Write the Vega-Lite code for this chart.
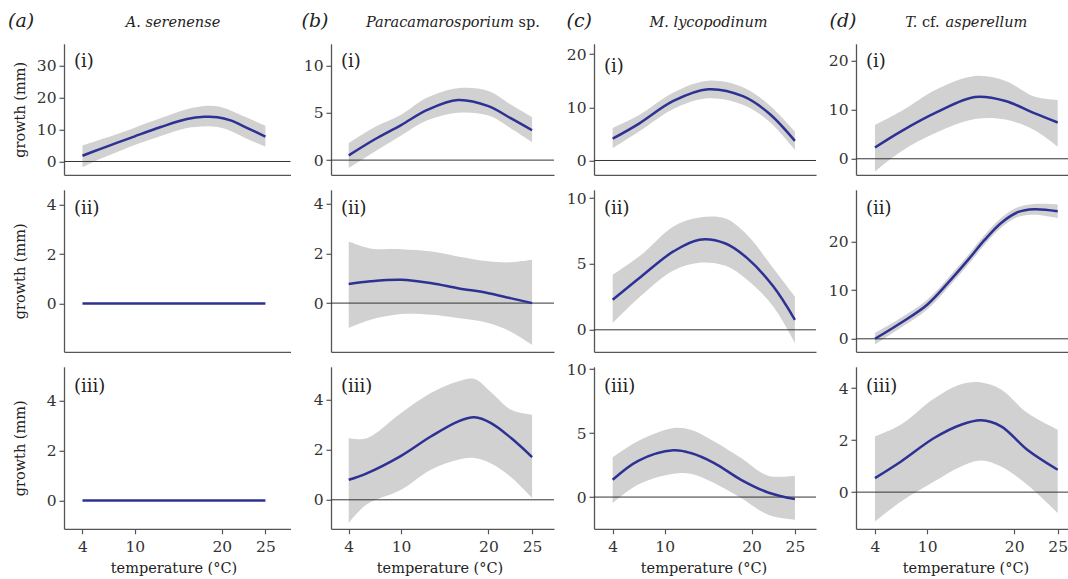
{
"$schema":"https://vega.github.io/schema/vega-lite/v6.json",
"background":"white",
"padding":{"left":7,"top":11.8,"right":0,"bottom":0},
"columns":4,
"bounds":"flush",
"align":"each",
"spacing":{"row":15,"column":40},
"config":{"view":{"stroke":null},"font":"DejaVu Serif",
"axis":{"grid":false,"labelFont":"DejaVu Serif","titleFont":"DejaVu Serif","labelFontSize":15.5,"titleFontSize":14.5,"titleFontWeight":"normal","labelColor":"#333","titleColor":"#222","domainColor":"#555","domainWidth":1.3,"tickColor":"#555","tickWidth":1.2,"tickSize":5,"labelPadding":3}},
"datasets":{"d":[
{"c":"a","r":"i","t":4,"fit":1.8,"lo":-1.8,"hi":5.0},
{"c":"a","r":"i","t":6,"fit":3.9,"lo":0.8,"hi":6.8},
{"c":"a","r":"i","t":8,"fit":5.9,"lo":3.0,"hi":8.6},
{"c":"a","r":"i","t":10,"fit":7.9,"lo":5.2,"hi":10.6},
{"c":"a","r":"i","t":13,"fit":10.8,"lo":8.0,"hi":13.6},
{"c":"a","r":"i","t":16,"fit":13.3,"lo":10.5,"hi":16.4},
{"c":"a","r":"i","t":18,"fit":14.0,"lo":11.0,"hi":17.4},
{"c":"a","r":"i","t":19.5,"fit":13.9,"lo":10.8,"hi":17.3},
{"c":"a","r":"i","t":21,"fit":12.9,"lo":9.6,"hi":16.0},
{"c":"a","r":"i","t":23,"fit":10.4,"lo":7.0,"hi":13.6},
{"c":"a","r":"i","t":25,"fit":7.8,"lo":4.6,"hi":11.2},
{"c":"b","r":"i","t":4,"fit":0.5,"lo":-0.85,"hi":1.8},
{"c":"b","r":"i","t":7,"fit":2.2,"lo":0.9,"hi":3.5},
{"c":"b","r":"i","t":10,"fit":3.7,"lo":2.6,"hi":4.8},
{"c":"b","r":"i","t":13,"fit":5.3,"lo":4.2,"hi":6.6},
{"c":"b","r":"i","t":16.5,"fit":6.35,"lo":5.0,"hi":7.6},
{"c":"b","r":"i","t":20,"fit":5.7,"lo":4.7,"hi":7.3},
{"c":"b","r":"i","t":22.5,"fit":4.45,"lo":3.4,"hi":5.9},
{"c":"b","r":"i","t":25,"fit":3.15,"lo":1.9,"hi":4.55},
{"c":"c","r":"i","t":4,"fit":4.1,"lo":2.3,"hi":6.1},
{"c":"c","r":"i","t":7,"fit":6.9,"lo":5.4,"hi":8.5},
{"c":"c","r":"i","t":11,"fit":11.2,"lo":9.7,"hi":12.8},
{"c":"c","r":"i","t":15,"fit":13.4,"lo":11.7,"hi":15.0},
{"c":"c","r":"i","t":19,"fit":12.1,"lo":10.5,"hi":13.8},
{"c":"c","r":"i","t":22,"fit":8.9,"lo":7.4,"hi":10.5},
{"c":"c","r":"i","t":25,"fit":3.7,"lo":2.0,"hi":5.45},
{"c":"d","r":"i","t":4,"fit":2.3,"lo":-2.6,"hi":6.9},
{"c":"d","r":"i","t":7,"fit":5.6,"lo":1.5,"hi":9.7},
{"c":"d","r":"i","t":11,"fit":9.4,"lo":5.3,"hi":14.1},
{"c":"d","r":"i","t":15.5,"fit":12.6,"lo":8.1,"hi":16.9},
{"c":"d","r":"i","t":19,"fit":11.8,"lo":8.0,"hi":15.9},
{"c":"d","r":"i","t":22.3,"fit":9.3,"lo":5.9,"hi":12.7},
{"c":"d","r":"i","t":25,"fit":7.4,"lo":2.5,"hi":12.0},
{"c":"a","r":"ii","t":4,"fit":0,"lo":0,"hi":0},
{"c":"a","r":"ii","t":25,"fit":0,"lo":0,"hi":0},
{"c":"b","r":"ii","t":4,"fit":0.77,"lo":-1.0,"hi":2.48},
{"c":"b","r":"ii","t":6.5,"fit":0.88,"lo":-0.67,"hi":2.2},
{"c":"b","r":"ii","t":10,"fit":0.94,"lo":-0.44,"hi":2.17},
{"c":"b","r":"ii","t":13.5,"fit":0.8,"lo":-0.47,"hi":2.08},
{"c":"b","r":"ii","t":16.5,"fit":0.6,"lo":-0.6,"hi":1.88},
{"c":"b","r":"ii","t":20,"fit":0.4,"lo":-0.8,"hi":1.68},
{"c":"b","r":"ii","t":22.5,"fit":0.2,"lo":-1.14,"hi":1.64},
{"c":"b","r":"ii","t":25,"fit":0.0,"lo":-1.68,"hi":1.74},
{"c":"c","r":"ii","t":4,"fit":2.28,"lo":0.5,"hi":4.18},
{"c":"c","r":"ii","t":7.3,"fit":4.05,"lo":2.6,"hi":5.7},
{"c":"c","r":"ii","t":11,"fit":5.95,"lo":4.5,"hi":7.85},
{"c":"c","r":"ii","t":14,"fit":6.84,"lo":5.1,"hi":8.53},
{"c":"c","r":"ii","t":17,"fit":6.55,"lo":4.86,"hi":8.45},
{"c":"c","r":"ii","t":19.5,"fit":5.44,"lo":3.8,"hi":7.2},
{"c":"c","r":"ii","t":22.5,"fit":3.3,"lo":1.77,"hi":4.68},
{"c":"c","r":"ii","t":25,"fit":0.76,"lo":-1.0,"hi":2.53},
{"c":"d","r":"ii","t":4,"fit":0.0,"lo":-1.2,"hi":1.2},
{"c":"d","r":"ii","t":7,"fit":3.3,"lo":2.3,"hi":4.3},
{"c":"d","r":"ii","t":10,"fit":7.0,"lo":6.0,"hi":8.0},
{"c":"d","r":"ii","t":12.7,"fit":12.1,"lo":11.1,"hi":13.1},
{"c":"d","r":"ii","t":14.7,"fit":16.2,"lo":15.2,"hi":17.2},
{"c":"d","r":"ii","t":16.6,"fit":20.3,"lo":19.3,"hi":21.3},
{"c":"d","r":"ii","t":18.5,"fit":23.8,"lo":22.8,"hi":24.8},
{"c":"d","r":"ii","t":20.4,"fit":26.0,"lo":25.0,"hi":27.0},
{"c":"d","r":"ii","t":22.3,"fit":26.6,"lo":25.5,"hi":27.7},
{"c":"d","r":"ii","t":25,"fit":26.2,"lo":24.8,"hi":27.6},
{"c":"a","r":"iii","t":4,"fit":0,"lo":0,"hi":0},
{"c":"a","r":"iii","t":25,"fit":0,"lo":0,"hi":0},
{"c":"b","r":"iii","t":4,"fit":0.8,"lo":-0.93,"hi":2.47},
{"c":"b","r":"iii","t":6,"fit":1.05,"lo":-0.2,"hi":2.45},
{"c":"b","r":"iii","t":10,"fit":1.76,"lo":0.4,"hi":3.47},
{"c":"b","r":"iii","t":13.4,"fit":2.53,"lo":1.2,"hi":4.27},
{"c":"b","r":"iii","t":16.5,"fit":3.13,"lo":1.6,"hi":4.73},
{"c":"b","r":"iii","t":18.4,"fit":3.3,"lo":1.67,"hi":4.83},
{"c":"b","r":"iii","t":20.3,"fit":3.07,"lo":1.45,"hi":4.3},
{"c":"b","r":"iii","t":22.6,"fit":2.47,"lo":0.9,"hi":3.6},
{"c":"b","r":"iii","t":25,"fit":1.71,"lo":0.07,"hi":3.4},
{"c":"c","r":"iii","t":4,"fit":1.35,"lo":-0.47,"hi":3.1},
{"c":"c","r":"iii","t":7,"fit":2.85,"lo":1.0,"hi":4.4},
{"c":"c","r":"iii","t":11,"fit":3.65,"lo":1.82,"hi":5.4},
{"c":"c","r":"iii","t":13,"fit":3.44,"lo":1.82,"hi":5.26},
{"c":"c","r":"iii","t":15.7,"fit":2.66,"lo":1.1,"hi":4.35},
{"c":"c","r":"iii","t":18.8,"fit":1.35,"lo":-0.08,"hi":3.05},
{"c":"c","r":"iii","t":21.9,"fit":0.36,"lo":-1.38,"hi":1.67},
{"c":"c","r":"iii","t":25,"fit":-0.16,"lo":-1.77,"hi":1.67},
{"c":"d","r":"iii","t":4,"fit":0.54,"lo":-1.13,"hi":2.14},
{"c":"d","r":"iii","t":7,"fit":1.18,"lo":-0.36,"hi":2.6},
{"c":"d","r":"iii","t":10.8,"fit":2.08,"lo":0.41,"hi":3.6},
{"c":"d","r":"iii","t":13.9,"fit":2.59,"lo":0.99,"hi":4.15},
{"c":"d","r":"iii","t":16.2,"fit":2.76,"lo":1.22,"hi":4.22},
{"c":"d","r":"iii","t":18.5,"fit":2.53,"lo":0.99,"hi":3.95},
{"c":"d","r":"iii","t":21.5,"fit":1.63,"lo":0.28,"hi":3.05},
{"c":"d","r":"iii","t":25,"fit":0.86,"lo":-0.81,"hi":2.4}
]},
"concat":[
{"width":226.5,"height":131,"data":{"name":"d"},"transform":[{"filter":"datum.c=='a' && datum.r=='i'"}],
 "resolve":{"axis":{"x":"independent","y":"independent"}},
 "layer":[
  {"mark":{"type":"area","color":"#d1d1d1","interpolate":"catmull-rom"},
   "encoding":{
    "x":{"field":"t","type":"quantitative","scale":{"domain":[1.88,27.88],"nice":false,"zero":false},"axis":{"orient":"bottom","ticks":false,"labels":false,"title":"(a)","titleX":-56.5,"titleY":-148,"titleAlign":"left","titleBaseline":"alphabetic","titleFontSize":19,"titleFontStyle":"italic"}},
    "y":{"field":"lo","type":"quantitative","scale":{"domain":[-4.17,36.9],"nice":false,"zero":false},"axis":{"orient":"left","values":[0,10,20,30],"title":"growth (mm)","titleX":-37,"titleY":65.5,"titleAngle":270,"titleAlign":"center","titleBaseline":"bottom"}},
    "y2":{"field":"hi"}}},
  {"data":{"values":[{}]},"mark":{"type":"rule","color":"#333","strokeWidth":1},"encoding":{"y":{"datum":0,"axis":null}}},
  {"mark":{"type":"line","color":"#2d3194","strokeWidth":2.5,"interpolate":"catmull-rom"},
   "encoding":{
    "x":{"field":"t","type":"quantitative","axis":{"orient":"top","domain":false,"ticks":false,"labels":false,"title":"A. serenense","titleX":108.5,"titleY":-17,"titleAlign":"center","titleBaseline":"alphabetic","titleFontStyle":"italic"}},
    "y":{"field":"fit","type":"quantitative","axis":{"orient":"right","domain":false,"ticks":false,"labels":false,"title":"(i)","titleX":-217,"titleY":23,"titleAngle":0,"titleAlign":"left","titleBaseline":"alphabetic","titleFontSize":18}}}}
 ]},
{"width":223,"height":131,"data":{"name":"d"},"transform":[{"filter":"datum.c=='b' && datum.r=='i'"}],
 "resolve":{"axis":{"x":"independent","y":"independent"}},
 "layer":[
  {"mark":{"type":"area","color":"#d1d1d1","interpolate":"catmull-rom"},
   "encoding":{
    "x":{"field":"t","type":"quantitative","scale":{"domain":[1.97,27.51],"nice":false,"zero":false},"axis":{"orient":"bottom","ticks":false,"labels":false,"title":"(b)","titleX":-30,"titleY":-148,"titleAlign":"left","titleBaseline":"alphabetic","titleFontSize":19,"titleFontStyle":"italic"}},
    "y":{"field":"lo","type":"quantitative","scale":{"domain":[-1.55,12.28],"nice":false,"zero":false},"axis":{"orient":"left","values":[0,5,10],"title":"sp.","titleX":187,"titleY":-17,"titleAngle":0,"titleAlign":"left","titleBaseline":"alphabetic"}},
    "y2":{"field":"hi"}}},
  {"data":{"values":[{}]},"mark":{"type":"rule","color":"#333","strokeWidth":1},"encoding":{"y":{"datum":0,"axis":null}}},
  {"mark":{"type":"line","color":"#2d3194","strokeWidth":2.5,"interpolate":"catmull-rom"},
   "encoding":{
    "x":{"field":"t","type":"quantitative","axis":{"orient":"top","domain":false,"ticks":false,"labels":false,"title":"Paracamarosporium","titleX":182.5,"titleY":-17,"titleAlign":"right","titleBaseline":"alphabetic","titleFontStyle":"italic"}},
    "y":{"field":"fit","type":"quantitative","axis":{"orient":"right","domain":false,"ticks":false,"labels":false,"title":"(i)","titleX":-213.5,"titleY":23,"titleAngle":0,"titleAlign":"left","titleBaseline":"alphabetic","titleFontSize":18}}}}
 ]},
{"width":222,"height":131,"data":{"name":"d"},"transform":[{"filter":"datum.c=='c' && datum.r=='i'"}],
 "resolve":{"axis":{"x":"independent","y":"independent"}},
 "layer":[
  {"mark":{"type":"area","color":"#d1d1d1","interpolate":"catmull-rom"},
   "encoding":{
    "x":{"field":"t","type":"quantitative","scale":{"domain":[1.85,27.43],"nice":false,"zero":false},"axis":{"orient":"bottom","ticks":false,"labels":false,"title":"(c)","titleX":-28,"titleY":-148,"titleAlign":"left","titleBaseline":"alphabetic","titleFontSize":19,"titleFontStyle":"italic"}},
    "y":{"field":"lo","type":"quantitative","scale":{"domain":[-2.69,21.95],"nice":false,"zero":false},"axis":{"orient":"left","values":[0,10,20],"title":null}},
    "y2":{"field":"hi"}}},
  {"data":{"values":[{}]},"mark":{"type":"rule","color":"#333","strokeWidth":1},"encoding":{"y":{"datum":0,"axis":null}}},
  {"mark":{"type":"line","color":"#2d3194","strokeWidth":2.5,"interpolate":"catmull-rom"},
   "encoding":{
    "x":{"field":"t","type":"quantitative","axis":{"orient":"top","domain":false,"ticks":false,"labels":false,"title":"M. lycopodinum","titleX":114,"titleY":-17,"titleAlign":"center","titleBaseline":"alphabetic","titleFontStyle":"italic"}},
    "y":{"field":"fit","type":"quantitative","axis":{"orient":"right","domain":false,"ticks":false,"labels":false,"title":"(i)","titleX":-212.5,"titleY":28,"titleAngle":0,"titleAlign":"left","titleBaseline":"alphabetic","titleFontSize":18}}}}
 ]},
{"width":213,"height":131,"data":{"name":"d"},"transform":[{"filter":"datum.c=='d' && datum.r=='i'"}],
 "resolve":{"axis":{"x":"independent","y":"independent"}},
 "layer":[
  {"mark":{"type":"area","color":"#d1d1d1","interpolate":"catmull-rom"},
   "encoding":{
    "x":{"field":"t","type":"quantitative","scale":{"domain":[1.82,26.3],"nice":false,"zero":false},"axis":{"orient":"bottom","ticks":false,"labels":false,"title":"(d)","titleX":-27,"titleY":-148,"titleAlign":"left","titleBaseline":"alphabetic","titleFontSize":19,"titleFontStyle":"italic"}},
    "y":{"field":"lo","type":"quantitative","scale":{"domain":[-3.27,23.47],"nice":false,"zero":false},"axis":{"orient":"left","values":[0,10,20],"title":"cf.","titleX":65.5,"titleY":-17,"titleAngle":0,"titleAlign":"left","titleBaseline":"alphabetic"}},
    "y2":{"field":"hi"}}},
  {"data":{"values":[{}]},"mark":{"type":"rule","color":"#333","strokeWidth":1},"encoding":{"y":{"datum":0,"axis":{"orient":"left","domain":false,"ticks":false,"labels":false,"title":"T.","titleX":60.9,"titleY":-17,"titleAngle":0,"titleAlign":"right","titleBaseline":"alphabetic","titleFontStyle":"italic"}}}},
  {"mark":{"type":"line","color":"#2d3194","strokeWidth":2.5,"interpolate":"catmull-rom"},
   "encoding":{
    "x":{"field":"t","type":"quantitative","axis":{"orient":"top","domain":false,"ticks":false,"labels":false,"title":"asperellum","titleX":89,"titleY":-17,"titleAlign":"left","titleBaseline":"alphabetic","titleFontStyle":"italic"}},
    "y":{"field":"fit","type":"quantitative","axis":{"orient":"right","domain":false,"ticks":false,"labels":false,"title":"(i)","titleX":-203.5,"titleY":23,"titleAngle":0,"titleAlign":"left","titleBaseline":"alphabetic","titleFontSize":18}}}}
 ]},
{"width":226.5,"height":162,"data":{"name":"d"},"transform":[{"filter":"datum.c=='a' && datum.r=='ii'"}],
 "resolve":{"axis":{"x":"independent","y":"independent"}},
 "layer":[
  {"mark":{"type":"area","color":"#d1d1d1","interpolate":"catmull-rom"},
   "encoding":{
    "x":{"field":"t","type":"quantitative","scale":{"domain":[1.88,27.88],"nice":false,"zero":false},"axis":{"orient":"bottom","ticks":false,"labels":false,"title":null}},
    "y":{"field":"lo","type":"quantitative","scale":{"domain":[-1.96,4.6],"nice":false,"zero":false},"axis":{"orient":"left","values":[0,2,4],"title":"growth (mm)","titleX":-37,"titleY":81,"titleAngle":270,"titleAlign":"center","titleBaseline":"bottom"}},
    "y2":{"field":"hi"}}},
  {"mark":{"type":"line","color":"#2d3194","strokeWidth":2.5,"interpolate":"catmull-rom"},
   "encoding":{
    "x":{"field":"t","type":"quantitative","axis":null},
    "y":{"field":"fit","type":"quantitative","axis":{"orient":"right","domain":false,"ticks":false,"labels":false,"title":"(ii)","titleX":-217,"titleY":23.5,"titleAngle":0,"titleAlign":"left","titleBaseline":"alphabetic","titleFontSize":18}}}}
 ]},
{"width":223,"height":162,"data":{"name":"d"},"transform":[{"filter":"datum.c=='b' && datum.r=='ii'"}],
 "resolve":{"axis":{"x":"independent","y":"independent"}},
 "layer":[
  {"mark":{"type":"area","color":"#d1d1d1","interpolate":"catmull-rom"},
   "encoding":{
    "x":{"field":"t","type":"quantitative","scale":{"domain":[1.97,27.51],"nice":false,"zero":false},"axis":{"orient":"bottom","ticks":false,"labels":false,"title":null}},
    "y":{"field":"lo","type":"quantitative","scale":{"domain":[-1.96,4.56],"nice":false,"zero":false},"axis":{"orient":"left","values":[0,2,4],"title":null}},
    "y2":{"field":"hi"}}},
  {"data":{"values":[{}]},"mark":{"type":"rule","color":"#333","strokeWidth":1},"encoding":{"y":{"datum":0,"axis":null}}},
  {"mark":{"type":"line","color":"#2d3194","strokeWidth":2.5,"interpolate":"catmull-rom"},
   "encoding":{
    "x":{"field":"t","type":"quantitative","axis":null},
    "y":{"field":"fit","type":"quantitative","axis":{"orient":"right","domain":false,"ticks":false,"labels":false,"title":"(ii)","titleX":-213.5,"titleY":23.5,"titleAngle":0,"titleAlign":"left","titleBaseline":"alphabetic","titleFontSize":18}}}}
 ]},
{"width":222,"height":162,"data":{"name":"d"},"transform":[{"filter":"datum.c=='c' && datum.r=='ii'"}],
 "resolve":{"axis":{"x":"independent","y":"independent"}},
 "layer":[
  {"mark":{"type":"area","color":"#d1d1d1","interpolate":"catmull-rom"},
   "encoding":{
    "x":{"field":"t","type":"quantitative","scale":{"domain":[1.85,27.43],"nice":false,"zero":false},"axis":{"orient":"bottom","ticks":false,"labels":false,"title":null}},
    "y":{"field":"lo","type":"quantitative","scale":{"domain":[-1.67,10.63],"nice":false,"zero":false},"axis":{"orient":"left","values":[0,5,10],"title":null}},
    "y2":{"field":"hi"}}},
  {"data":{"values":[{}]},"mark":{"type":"rule","color":"#333","strokeWidth":1},"encoding":{"y":{"datum":0,"axis":null}}},
  {"mark":{"type":"line","color":"#2d3194","strokeWidth":2.5,"interpolate":"catmull-rom"},
   "encoding":{
    "x":{"field":"t","type":"quantitative","axis":null},
    "y":{"field":"fit","type":"quantitative","axis":{"orient":"right","domain":false,"ticks":false,"labels":false,"title":"(ii)","titleX":-212.5,"titleY":23.5,"titleAngle":0,"titleAlign":"left","titleBaseline":"alphabetic","titleFontSize":18}}}}
 ]},
{"width":213,"height":162,"data":{"name":"d"},"transform":[{"filter":"datum.c=='d' && datum.r=='ii'"}],
 "resolve":{"axis":{"x":"independent","y":"independent"}},
 "layer":[
  {"mark":{"type":"area","color":"#d1d1d1","interpolate":"catmull-rom"},
   "encoding":{
    "x":{"field":"t","type":"quantitative","scale":{"domain":[1.82,26.3],"nice":false,"zero":false},"axis":{"orient":"bottom","ticks":false,"labels":false,"title":null}},
    "y":{"field":"lo","type":"quantitative","scale":{"domain":[-2.67,30.6],"nice":false,"zero":false},"axis":{"orient":"left","values":[0,10,20],"title":null}},
    "y2":{"field":"hi"}}},
  {"data":{"values":[{}]},"mark":{"type":"rule","color":"#333","strokeWidth":1},"encoding":{"y":{"datum":0,"axis":null}}},
  {"mark":{"type":"line","color":"#2d3194","strokeWidth":2.5,"interpolate":"catmull-rom"},
   "encoding":{
    "x":{"field":"t","type":"quantitative","axis":null},
    "y":{"field":"fit","type":"quantitative","axis":{"orient":"right","domain":false,"ticks":false,"labels":false,"title":"(ii)","titleX":-203.5,"titleY":23.5,"titleAngle":0,"titleAlign":"left","titleBaseline":"alphabetic","titleFontSize":18}}}}
 ]},
{"width":226.5,"height":162,"data":{"name":"d"},"transform":[{"filter":"datum.c=='a' && datum.r=='iii'"}],
 "resolve":{"axis":{"x":"independent","y":"independent"}},
 "layer":[
  {"mark":{"type":"area","color":"#d1d1d1","interpolate":"catmull-rom"},
   "encoding":{
    "x":{"field":"t","type":"quantitative","scale":{"domain":[1.88,27.88],"nice":false,"zero":false},"axis":{"orient":"bottom","values":[4,10,20,25],"labelPadding":6,"title":"temperature (°C)","titleX":109.5,"titleY":44,"titleAlign":"center","titleBaseline":"alphabetic"}},
    "y":{"field":"lo","type":"quantitative","scale":{"domain":[-1.14,5.37],"nice":false,"zero":false},"axis":{"orient":"left","values":[0,2,4],"title":"growth (mm)","titleX":-37,"titleY":81,"titleAngle":270,"titleAlign":"center","titleBaseline":"bottom"}},
    "y2":{"field":"hi"}}},
  {"mark":{"type":"line","color":"#2d3194","strokeWidth":2.5,"interpolate":"catmull-rom"},
   "encoding":{
    "x":{"field":"t","type":"quantitative","axis":null},
    "y":{"field":"fit","type":"quantitative","axis":{"orient":"right","domain":false,"ticks":false,"labels":false,"title":"(iii)","titleX":-217,"titleY":25,"titleAngle":0,"titleAlign":"left","titleBaseline":"alphabetic","titleFontSize":18}}}}
 ]},
{"width":223,"height":162,"data":{"name":"d"},"transform":[{"filter":"datum.c=='b' && datum.r=='iii'"}],
 "resolve":{"axis":{"x":"independent","y":"independent"}},
 "layer":[
  {"mark":{"type":"area","color":"#d1d1d1","interpolate":"catmull-rom"},
   "encoding":{
    "x":{"field":"t","type":"quantitative","scale":{"domain":[1.97,27.51],"nice":false,"zero":false},"axis":{"orient":"bottom","values":[4,10,20,25],"labelPadding":6,"title":"temperature (°C)","titleX":108.5,"titleY":44,"titleAlign":"center","titleBaseline":"alphabetic"}},
    "y":{"field":"lo","type":"quantitative","scale":{"domain":[-1.16,5.32],"nice":false,"zero":false},"axis":{"orient":"left","values":[0,2,4],"title":null}},
    "y2":{"field":"hi"}}},
  {"data":{"values":[{}]},"mark":{"type":"rule","color":"#333","strokeWidth":1},"encoding":{"y":{"datum":0,"axis":null}}},
  {"mark":{"type":"line","color":"#2d3194","strokeWidth":2.5,"interpolate":"catmull-rom"},
   "encoding":{
    "x":{"field":"t","type":"quantitative","axis":null},
    "y":{"field":"fit","type":"quantitative","axis":{"orient":"right","domain":false,"ticks":false,"labels":false,"title":"(iii)","titleX":-213.5,"titleY":25,"titleAngle":0,"titleAlign":"left","titleBaseline":"alphabetic","titleFontSize":18}}}}
 ]},
{"width":222,"height":162,"data":{"name":"d"},"transform":[{"filter":"datum.c=='c' && datum.r=='iii'"}],
 "resolve":{"axis":{"x":"independent","y":"independent"}},
 "layer":[
  {"mark":{"type":"area","color":"#d1d1d1","interpolate":"catmull-rom"},
   "encoding":{
    "x":{"field":"t","type":"quantitative","scale":{"domain":[1.85,27.43],"nice":false,"zero":false},"axis":{"orient":"bottom","values":[4,10,20,25],"labelPadding":6,"title":"temperature (°C)","titleX":109.5,"titleY":44,"titleAlign":"center","titleBaseline":"alphabetic"}},
    "y":{"field":"lo","type":"quantitative","scale":{"domain":[-2.48,10.18],"nice":false,"zero":false},"axis":{"orient":"left","values":[0,5,10],"title":null}},
    "y2":{"field":"hi"}}},
  {"data":{"values":[{}]},"mark":{"type":"rule","color":"#333","strokeWidth":1},"encoding":{"y":{"datum":0,"axis":null}}},
  {"mark":{"type":"line","color":"#2d3194","strokeWidth":2.5,"interpolate":"catmull-rom"},
   "encoding":{
    "x":{"field":"t","type":"quantitative","axis":null},
    "y":{"field":"fit","type":"quantitative","axis":{"orient":"right","domain":false,"ticks":false,"labels":false,"title":"(iii)","titleX":-212.5,"titleY":25,"titleAngle":0,"titleAlign":"left","titleBaseline":"alphabetic","titleFontSize":18}}}}
 ]},
{"width":213,"height":162,"data":{"name":"d"},"transform":[{"filter":"datum.c=='d' && datum.r=='iii'"}],
 "resolve":{"axis":{"x":"independent","y":"independent"}},
 "layer":[
  {"mark":{"type":"area","color":"#d1d1d1","interpolate":"catmull-rom"},
   "encoding":{
    "x":{"field":"t","type":"quantitative","scale":{"domain":[1.82,26.3],"nice":false,"zero":false},"axis":{"orient":"bottom","values":[4,10,20,25],"labelPadding":6,"title":"temperature (°C)","titleX":109.5,"titleY":44,"titleAlign":"center","titleBaseline":"alphabetic"}},
    "y":{"field":"lo","type":"quantitative","scale":{"domain":[-1.41,4.82],"nice":false,"zero":false},"axis":{"orient":"left","values":[0,2,4],"title":null}},
    "y2":{"field":"hi"}}},
  {"data":{"values":[{}]},"mark":{"type":"rule","color":"#333","strokeWidth":1},"encoding":{"y":{"datum":0,"axis":null}}},
  {"mark":{"type":"line","color":"#2d3194","strokeWidth":2.5,"interpolate":"catmull-rom"},
   "encoding":{
    "x":{"field":"t","type":"quantitative","axis":null},
    "y":{"field":"fit","type":"quantitative","axis":{"orient":"right","domain":false,"ticks":false,"labels":false,"title":"(iii)","titleX":-203.5,"titleY":25,"titleAngle":0,"titleAlign":"left","titleBaseline":"alphabetic","titleFontSize":18}}}}
 ]}
]
}
